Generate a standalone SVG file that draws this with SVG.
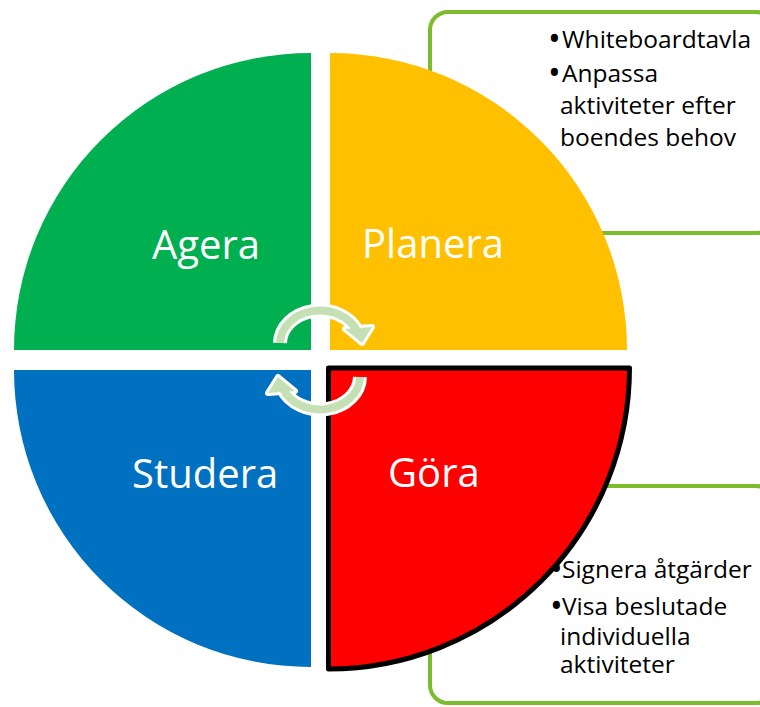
<svg xmlns="http://www.w3.org/2000/svg" width="760" height="707" viewBox="0 0 760 707">
  <style>
    .box { fill: #ffffff; stroke: #7cbb2b; stroke-width: 4; }
    .note { font-family: "Open Sans", "Liberation Sans", sans-serif; font-size: 24.5px; fill: #000000; }
    .dot { font-size: 34px; }
    .label { font-family: "Open Sans", "Liberation Sans", sans-serif; font-size: 40px; fill: #ffffff; }
    .halo { fill: none; stroke: #ffffff; stroke-width: 14; }
    .core { fill: none; stroke: #c5e0b4; stroke-width: 8; }
    .head-halo { fill: #ffffff; stroke: #ffffff; stroke-width: 6; stroke-linejoin: round; }
    .head-core { fill: #c5e0b4; }
  </style>
  <defs>
    <!-- one curved cycle arrow; the second is the same shape turned half a turn -->
    <g id="cycle-arrow">
      <path class="halo" d="M280,343 A40,33 0 0 1 357,331"/>
      <polygon class="head-halo" points="345,329 372,327 362,343"/>
      <path class="core" d="M280,343 A40,33 0 0 1 357,331"/>
      <polygon class="head-core" points="345,329 372,327 362,343"/>
    </g>
  </defs>

  <rect width="760" height="707" fill="#ffffff"/>

  <!-- notes for Planera -->
  <g id="box-planera">
    <rect class="box" x="430" y="12" width="344" height="221" rx="18"/>
    <text class="note" y="48"><tspan class="dot" x="548" dy="3">•</tspan><tspan x="562" dy="-3">Whiteboardtavla</tspan></text>
    <text class="note" y="82"><tspan class="dot" x="548" dy="3">•</tspan><tspan x="562" dy="-3">Anpassa</tspan></text>
    <text class="note" x="560" y="114">aktiviteter efter</text>
    <text class="note" x="560" y="146">boendes behov</text>
  </g>

  <!-- notes for Göra -->
  <g id="box-gora">
    <rect class="box" x="430" y="486" width="344" height="217" rx="18"/>
    <text class="note" y="578"><tspan class="dot" x="550" dy="3">•</tspan><tspan x="562" dy="-3">Signera åtgärder</tspan></text>
    <text class="note" y="615"><tspan class="dot" x="550" dy="3">•</tspan><tspan x="562" dy="-3">Visa beslutade</tspan></text>
    <text class="note" x="560" y="645">individuella</text>
    <text class="note" x="560" y="673">aktiviteter</text>
  </g>

  <g id="q-agera">
    <path d="M311,350 L14,350 A297,297 0 0 1 311,53 Z" fill="#00b050"/>
    <text class="label" x="152" y="259">Agera</text>
  </g>

  <g id="q-planera">
    <path d="M330,350 L330,53 A297,297 0 0 1 627,350 Z" fill="#ffc000"/>
    <text class="label" x="362" y="258">Planera</text>
  </g>

  <g id="q-studera">
    <path d="M311,370 L311,667 A297,297 0 0 1 14,370 Z" fill="#0070c0"/>
    <text class="label" x="132" y="488">Studera</text>
  </g>

  <g id="q-gora">
    <path d="M328.5,368 L629.5,368 A301,301 0 0 1 328.5,669 Z" fill="#ff0000" stroke="#000000" stroke-width="5" stroke-linejoin="round"/>
    <text class="label" x="388" y="487">Göra</text>
  </g>

  <g id="connectors">
    <use href="#cycle-arrow"/>
    <use href="#cycle-arrow" transform="rotate(180 320 360)"/>
  </g>
</svg>
